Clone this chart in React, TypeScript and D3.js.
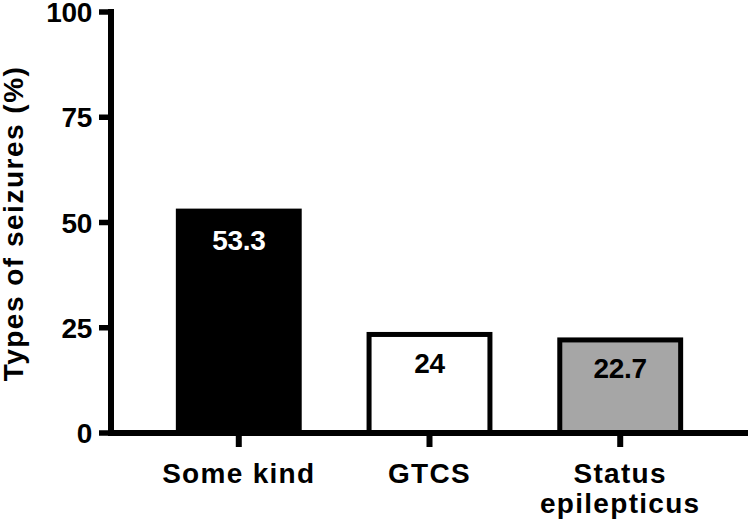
import React from "react";
import * as d3 from "d3";

const categories: string[][] = [["Some kind"], ["GTCS"], ["Status", "epilepticus"]];
const values: number[] = [53.3, 24, 22.7];
const valueLabels: string[] = ["53.3", "24", "22.7"];
const fills: string[] = ["#000000", "#ffffff", "#a6a6a6"];
const labelColors: string[] = ["#ffffff", "#000000", "#000000"];
const yTicks: number[] = [0, 25, 50, 75, 100];
const yTitle = "Types of seizures (%)";

const W = 750;
const H = 524;
const axisX = 111;
const axisY = 433;
const FONT = "'Liberation Sans', Arial, Helvetica, sans-serif";

export default function App() {
  const y = d3.scaleLinear().domain([0, 100]).range([axisY, 12]);
  const x = d3
    .scaleBand<number>()
    .domain(values.map((_, i) => i))
    .range([axisX, 748])
    .paddingInner(0.34)
    .paddingOuter(0.34);

  return (
    <svg
      width={W}
      height={H}
      style={{ position: "absolute", left: 0, top: 0, background: "#fff" }}
      fontFamily={FONT}
      fontWeight="bold"
    >
      {/* bars */}
      {values.map((v, i) => (
        <rect
          key={"bar" + i}
          x={(x(i) as number) + 2.5}
          y={y(v) + 2.5}
          width={x.bandwidth() - 5}
          height={axisY - y(v) - 2.5}
          fill={fills[i]}
          stroke="#000"
          strokeWidth={5}
        />
      ))}
      {/* value labels */}
      {values.map((v, i) => (
        <text
          key={"vl" + i}
          x={(x(i) as number) + x.bandwidth() / 2}
          y={y(v) + 41}
          textAnchor="middle"
          fontSize={28}
          letterSpacing={-0.3}
          fill={labelColors[i]}
        >
          {valueLabels[i]}
        </text>
      ))}
      {/* y axis */}
      <line x1={axisX} x2={axisX} y1={y(100) - 3} y2={axisY + 3} stroke="#000" strokeWidth={6} />
      {yTicks.map((t) => (
        <g key={"yt" + t}>
          <line x1={99} x2={axisX} y1={y(t)} y2={y(t)} stroke="#000" strokeWidth={5.5} />
          <text x={92} y={y(t)} dy="0.36em" textAnchor="end" fontSize={28} letterSpacing={-0.3} fill="#000">
            {t}
          </text>
        </g>
      ))}
      {/* x axis */}
      <line x1={axisX - 3} x2={748} y1={axisY} y2={axisY} stroke="#000" strokeWidth={6} />
      {categories.map((lines, i) => {
        const cx = (x(i) as number) + x.bandwidth() / 2;
        return (
          <g key={"xt" + i}>
            <line x1={cx} x2={cx} y1={axisY} y2={447} stroke="#000" strokeWidth={6} />
            {lines.map((l, j) => (
              <text
                key={j}
                x={cx}
                y={483 + j * 30}
                textAnchor="middle"
                fontSize={28}
                letterSpacing={1.3}
                fill="#000"
              >
                {l}
              </text>
            ))}
          </g>
        );
      })}
      {/* y title */}
      <text
        transform={`translate(23, ${(y(0) + y(100)) / 2 + 1}) rotate(-90)`}
        textAnchor="middle"
        fontSize={28}
        letterSpacing={1.5}
        fill="#000"
      >
        {yTitle}
      </text>
    </svg>
  );
}
